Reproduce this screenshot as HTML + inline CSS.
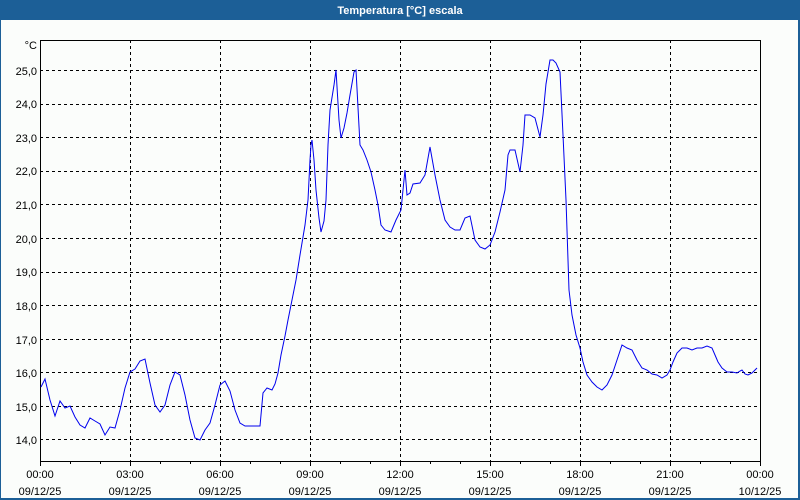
<!DOCTYPE html>
<html><head><meta charset="utf-8"><style>
html,body{margin:0;padding:0;width:800px;height:500px;overflow:hidden;background:#fbfdfb}
</style></head><body>
<svg width="800" height="500" xmlns="http://www.w3.org/2000/svg" font-family="Liberation Sans, DejaVu Sans, sans-serif" font-size="11">
<rect x="0" y="0" width="800" height="500" fill="#fbfdfb"/>
<rect x="0" y="0" width="800" height="20" fill="#1c5f97"/>
<rect x="0" y="0" width="1" height="500" fill="#1c5f97"/>
<rect x="798" y="0" width="2" height="500" fill="#1c5f97"/>
<rect x="0" y="498" width="800" height="2" fill="#1c5f97"/>
<text x="400" y="14" fill="#fff" font-weight="bold" text-anchor="middle" font-size="11">Temperatura [°C] escala</text>
<g stroke="#000" stroke-width="1" stroke-dasharray="3,3" fill="none">
<path d="M40 70.5H760M40 104.5H760M40 137.5H760M40 171.5H760M40 204.5H760M40 238.5H760M40 272.5H760M40 305.5H760M40 339.5H760M40 372.5H760M40 406.5H760M40 439.5H760"/>
<path d="M130.5 40V461M220.5 40V461M310.5 40V461M400.5 40V461M490.5 40V461M580.5 40V461M670.5 40V461"/>
</g>
<rect x="40.5" y="40.5" width="720" height="421" fill="none" stroke="#000" stroke-width="1"/>
<g stroke="#000" stroke-width="1">
<path d="M40.5 461V466M70.5 461V464M100.5 461V464M130.5 461V466M160.5 461V464M190.5 461V464M220.5 461V466M250.5 461V464M280.5 461V464M310.5 461V466M340.5 461V464M370.5 461V464M400.5 461V466M430.5 461V464M460.5 461V464M490.5 461V466M520.5 461V464M550.5 461V464M580.5 461V466M610.5 461V464M640.5 461V464M670.5 461V466M700.5 461V464M730.5 461V464M760.5 461V466"/>
</g>
<g fill="#000" text-anchor="end">
<text x="37" y="49">°C</text>
<text x="37" y="75">25,0</text><text x="37" y="108">24,0</text><text x="37" y="142">23,0</text><text x="37" y="175">22,0</text><text x="37" y="209">21,0</text><text x="37" y="243">20,0</text><text x="37" y="276">19,0</text><text x="37" y="310">18,0</text><text x="37" y="344">17,0</text><text x="37" y="377">16,0</text><text x="37" y="411">15,0</text><text x="37" y="444">14,0</text>
</g>
<g fill="#000" text-anchor="middle">
<text x="40" y="478">00:00</text><text x="40" y="495">09/12/25</text>
<text x="130" y="478">03:00</text><text x="130" y="495">09/12/25</text>
<text x="220" y="478">06:00</text><text x="220" y="495">09/12/25</text>
<text x="310" y="478">09:00</text><text x="310" y="495">09/12/25</text>
<text x="400" y="478">12:00</text><text x="400" y="495">09/12/25</text>
<text x="490" y="478">15:00</text><text x="490" y="495">09/12/25</text>
<text x="580" y="478">18:00</text><text x="580" y="495">09/12/25</text>
<text x="670" y="478">21:00</text><text x="670" y="495">09/12/25</text>
<text x="760" y="478">00:00</text><text x="760" y="495">10/12/25</text>
</g>
<polyline fill="none" stroke="#0000ee" stroke-width="1" points="41,387 45,379 50,400 55,416 60,401 65,408 70,406 75,417 80,425 85,428 90,418 95,421 100,424 105,435 110,427 115,428 120,410 125,388 130,372 135,369 140,361 145,359 150,383 155,405 160,412 165,405 170,385 175,372 180,375 185,395 190,420 195,438 200,440 205,430 210,423 215,405 220,385 225,381 230,391 235,410 240,423 245,426 250,426 260,426 263,393 267,388 272,390 275,384 278,373 281,355 285,336 288,320 292,300 296,280 300,255 305,225 308,200 310,160 311,145 312,140 314,160 316,190 319,218 321,232 324,221 326,200 328,145 330,110 334,85 336,70 339,120 341,138 344,128 347,113 350,95 354,72 356,70 360,145 363,150 367,160 371,172 375,190 378,205 381,225 385,230 391,232 396,220 401,210 405,170 407,195 410,193 413,184 420,183 425,175 430,147 435,175 440,200 445,220 450,227 455,230 460,230 465,218 470,216 475,240 480,247 485,249 490,245 495,232 500,212 505,190 508,155 510,150 515,150 520,172 523,145 525,115 530,115 535,118 540,137 543,115 546,84 550,60 553,60 556,63 560,72 563,135 566,200 569,290 572,315 576,335 580,348 583,362 587,375 592,382 597,387 602,390 607,385 612,375 617,360 622,345 627,348 632,350 637,360 642,368 647,370 652,374 657,375 662,378 667,375 670,370 673,362 677,353 682,348 687,348 692,350 697,348 702,348 707,346 712,348 715,355 718,362 722,368 727,372 732,372 737,373 740,371 742,370 745,374 748,375 752,373 754,371 757,368"/>
</svg>
</body></html>
